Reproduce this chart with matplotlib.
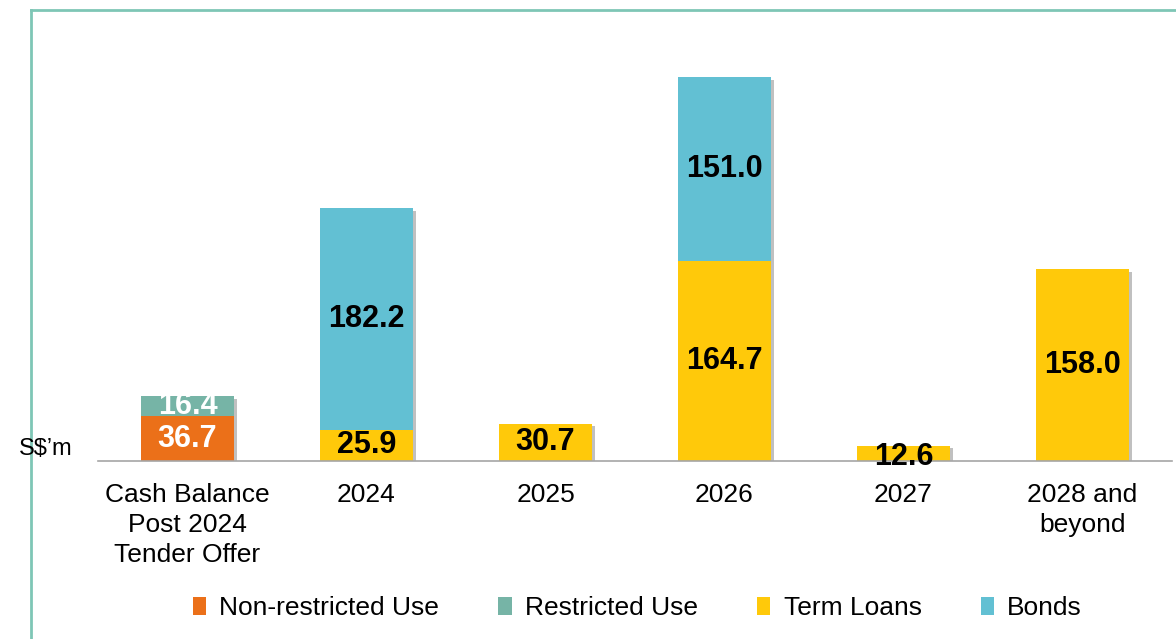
import matplotlib
matplotlib.use('Agg')
import matplotlib.pyplot as plt
import matplotlib.patheffects as pe
from matplotlib.lines import Line2D
from matplotlib.patches import Patch
import numpy as np

plt.rcParams['font.family'] = ['Liberation Sans', 'DejaVu Sans']

# Data (S$ million)
categories = ['Cash Balance\nPost 2024\nTender Offer', '2024', '2025', '2026', '2027', '2028 and\nbeyond']
non_restricted = [36.7, 0, 0, 0, 0, 0]
restricted = [16.4, 0, 0, 0, 0, 0]
term_loans = [0, 25.9, 30.7, 164.7, 12.6, 158.0]
bonds = [0, 182.2, 0, 151.0, 0, 0]

series = [
    ('Non-restricted Use', non_restricted, '#EB7019', 'white'),
    ('Restricted Use', restricted, '#76B4A6', 'white'),
    ('Term Loans', term_loans, '#FFC90A', 'black'),
    ('Bonds', bonds, '#62C0D3', 'black'),
]

fig = plt.figure(figsize=(11.76, 6.39), dpi=100)
W, H = 1176, 639
ax = fig.add_axes([98 / W, (H - 461) / H, 1074 / W, 451 / H])

x = np.arange(len(categories))

# soft shadow behind each whole stack
totals = np.sum([s[1] for s in series], axis=0)
shadow_bars = ax.bar(x, totals, 0.52, color='white', zorder=1)
for b in shadow_bars:
    b.set_path_effects([pe.SimplePatchShadow(offset=(2, -2), alpha=0.35), pe.Normal()])

bottom = np.zeros(len(categories))
for name, vals, color, tcol in series:
    vals = np.array(vals)
    ax.bar(x, vals, 0.52, bottom=bottom, color=color, label=name, zorder=2)
    for xi, v, b0 in zip(x, vals, bottom):
        if v > 0:
            ypos = b0 + v / 2
            if v < 15:
                ypos = b0 + v / 2 - 3
            ax.text(xi, ypos, f'{v:.1f}', ha='center', va='center',
                    fontsize=22, fontweight='bold', color=tcol, zorder=4)
    bottom = bottom + vals

ax.set_xlim(-0.5, 5.5)
ax.set_ylim(0, 451 / 1.216)
ax.set_xticks(x)
ax.set_xticklabels(categories, fontsize=19, linespacing=1.32)
ax.tick_params(axis='x', length=0, pad=16)
ax.set_yticks([])
for s in ['top', 'right', 'left']:
    ax.spines[s].set_visible(False)
ax.spines['bottom'].set_color('#A6A6A6')
ax.spines['bottom'].set_linewidth(1.2)
ax.spines['bottom'].set_zorder(3)

fig.text(73 / W, 1 - 449 / H, 'S$\u2019m', ha='right', va='center', fontsize=17)

handles = [Patch(facecolor=c, label=n) for n, _, c, _ in series]
fig.legend(handles=handles, loc='center', bbox_to_anchor=(0.542, 1 - 608 / H),
           ncol=4, frameon=False, fontsize=19, handlelength=0.5, handleheight=0.7,
           handletextpad=0.5, columnspacing=2.25)

# teal frame at top and left
fig.add_artist(Line2D([31 / W, 31 / W], [0, 1 - 10 / H], color='#7EC6B6', lw=2, transform=fig.transFigure))
fig.add_artist(Line2D([31 / W, 1], [1 - 10 / H, 1 - 10 / H], color='#7EC6B6', lw=2, transform=fig.transFigure))

fig.savefig('out.png', dpi=100)
